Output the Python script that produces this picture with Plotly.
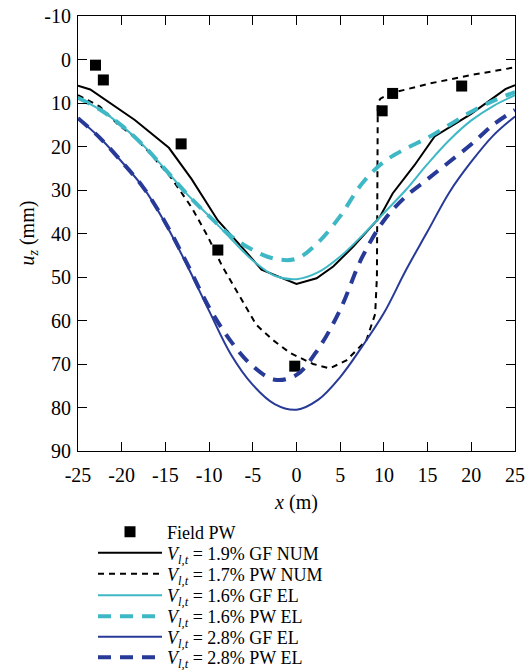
import plotly.graph_objects as go

# Field measurements (plane-wave section)
field_x = [-23.0, -22.1, -13.2, -9.0, -0.2, 9.8, 11.0, 18.9]
field_uz = [1.3, 4.7, 19.4, 43.8, 70.5, 11.8, 7.8, 6.1]

# Numerical, Vl,t = 1.9% (GF NUM)
gf_num_x = [-25.0, -23.6, -18.5, -14.6, -12.0, -9.0, -6.0, -4.0, 0.0, 2.3, 4.2, 6.5,
            9.5, 11.0, 13.5, 15.8, 19.9, 23.9, 25.0]
gf_num_uz = [6.0, 6.9, 13.9, 20.3, 27.5, 37.0, 43.7, 48.3, 51.6, 50.3, 47.6, 43.0,
             36.3, 30.8, 24.3, 17.7, 12.6, 6.8, 5.9]

# Numerical, Vl,t = 1.7% (PW NUM)
pw_num_x = [-25.0, -22.5, -20.4, -18.7, -17.0, -14.3, -12.0, -10.2, -8.5, -6.5, -4.6,
            -2.7, -0.7, 1.9, 3.8, 5.7, 8.0, 9.0, 9.2, 9.25, 9.3, 9.6, 10.7, 15.3, 19.9, 25.0]
pw_num_uz = [8.2, 10.8, 15.0, 17.5, 21.0, 27.3, 34.0, 40.5, 47.5, 54.5, 61.0,
             64.5, 67.5, 70.0, 71.0, 69.2, 64.5, 58.5, 50.0, 30.0, 10.0, 9.0, 7.8, 5.5, 3.6, 1.8]

# Empirical curves sampled every 2.5 m
x_el = [-25.0, -22.5, -20.0, -17.5, -15.0, -12.5, -10.0, -7.5, -5.0, -2.5, 0.0,
        2.5, 5.0, 7.5, 10.0, 12.5, 15.0, 17.5, 20.0, 22.5, 25.0]
gf_el_16 = [8.8, 11.5, 15.2, 19.8, 25.3, 31.0, 36.0, 41.2, 46.2, 49.7, 50.5,
            48.9, 45.3, 40.5, 35.3, 30.0, 24.0, 18.5, 14.0, 10.7, 8.2]
pw_el_16 = [8.8, 11.5, 15.2, 19.8, 25.3, 31.0, 36.0, 40.6, 43.8, 45.8, 45.8,
            42.0, 36.0, 28.5, 23.5, 20.5, 18.0, 15.0, 12.0, 9.5, 7.5]
gf_el_28 = [13.5, 18.0, 23.5, 29.5, 37.7, 47.4, 57.8, 67.8, 74.8, 79.2, 80.5,
            78.2, 73.0, 66.0, 58.3, 48.5, 39.5, 30.5, 23.5, 17.5, 13.1]
pw_el_28 = [13.5, 18.0, 23.5, 29.5, 37.5, 47.0, 57.0, 64.8, 70.5, 73.6, 72.5,
            66.5, 57.5, 45.5, 37.0, 31.5, 27.5, 23.5, 19.5, 15.0, 11.6]

# Axis ticks (ASCII hyphen for negatives)
x_ticks = [-25, -20, -15, -10, -5, 0, 5, 10, 15, 20, 25]
y_ticks = [-10, 0, 10, 20, 30, 40, 50, 60, 70, 80, 90]

CYAN = "#3FB8C6"
BLUE = "#283A97"
SERIF = "Liberation Serif"
W, H = 525, 670
M_L, M_R, M_T, M_B = 78, 10, 16, 219
PLOT_W = W - M_L - M_R


def vlt(v, kind):
    return f"<i>V</i><sub><i>l,t</i></sub> = {v}% {kind}"


traces = [
    go.Scatter(x=field_x, y=field_uz, mode="markers", name="Field PW",
               marker=dict(symbol="square", size=11, color="black")),
    go.Scatter(x=gf_num_x, y=gf_num_uz, mode="lines", name=vlt("1.9", "GF NUM"),
               line=dict(color="black", width=2)),
    go.Scatter(x=pw_num_x, y=pw_num_uz, mode="lines", name=vlt("1.7", "PW NUM"),
               line=dict(color="black", width=2, dash="6px,5px")),
    go.Scatter(x=x_el, y=gf_el_16, mode="lines", name=vlt("1.6", "GF EL"),
               line=dict(color=CYAN, width=2, shape="spline")),
    go.Scatter(x=x_el, y=pw_el_16, mode="lines", name=vlt("1.6", "PW EL"),
               line=dict(color=CYAN, width=4, dash="13px,9px", shape="spline")),
    go.Scatter(x=x_el, y=gf_el_28, mode="lines", name=vlt("2.8", "GF EL"),
               line=dict(color=BLUE, width=2, shape="spline")),
    go.Scatter(x=x_el, y=pw_el_28, mode="lines", name=vlt("2.8", "PW EL"),
               line=dict(color=BLUE, width=4, dash="13px,9px", shape="spline")),
]

# One legend box per entry so the rows sit on a tight, even pitch below the axes
legend_rows_px = [532, 553, 574, 595.5, 616.5, 637, 657.5]
legend_x = (93 - M_L) / PLOT_W
legend_layout = {}
fig = go.Figure()
for i, (tr, row) in enumerate(zip(traces, legend_rows_px)):
    key = "legend" if i == 0 else f"legend{i + 1}"
    tr.legend = key
    fig.add_trace(tr)
    legend_layout[key] = dict(
        xref="paper", yref="container",
        x=legend_x, y=1 - row / H, xanchor="left", yanchor="middle",
        font=dict(family=SERIF, size=18, color="black"),
        bgcolor="rgba(0,0,0,0)", itemwidth=64, borderwidth=0,
    )

axis_common = dict(showline=True, linecolor="black", linewidth=1, mirror="ticks",
                   ticks="inside", ticklen=9, tickcolor="black", showgrid=False,
                   zeroline=False, automargin=False,
                   tickfont=dict(family=SERIF, size=20, color="black"))

fig.update_layout(
    width=W, height=H,
    margin=dict(l=M_L, r=M_R, t=M_T, b=M_B),
    paper_bgcolor="white", plot_bgcolor="white",
    font=dict(family=SERIF, color="black"),
    xaxis=dict(range=[-25, 25], tickvals=x_ticks, ticktext=[str(v) for v in x_ticks],
               ticklabelstandoff=6,
               title=dict(text="<i>x</i> (m)", font=dict(family=SERIF, size=20), standoff=9),
               **axis_common),
    yaxis=dict(range=[90, -10], tickvals=y_ticks, ticktext=[str(v) for v in y_ticks],
               ticklabelstandoff=2,
               **axis_common),
    showlegend=True,
    **legend_layout,
)

# Vertical axis label, set a fixed distance left of the tick labels
fig.add_annotation(
    text="<i>u</i><sub><i>z</i></sub> (mm)", textangle=-90,
    xref="paper", yref="paper", x=(28 - M_L) / PLOT_W, y=0.5,
    xanchor="center", yanchor="middle", showarrow=False,
    font=dict(family=SERIF, size=20, color="black"),
)

fig.write_html("out.html")
